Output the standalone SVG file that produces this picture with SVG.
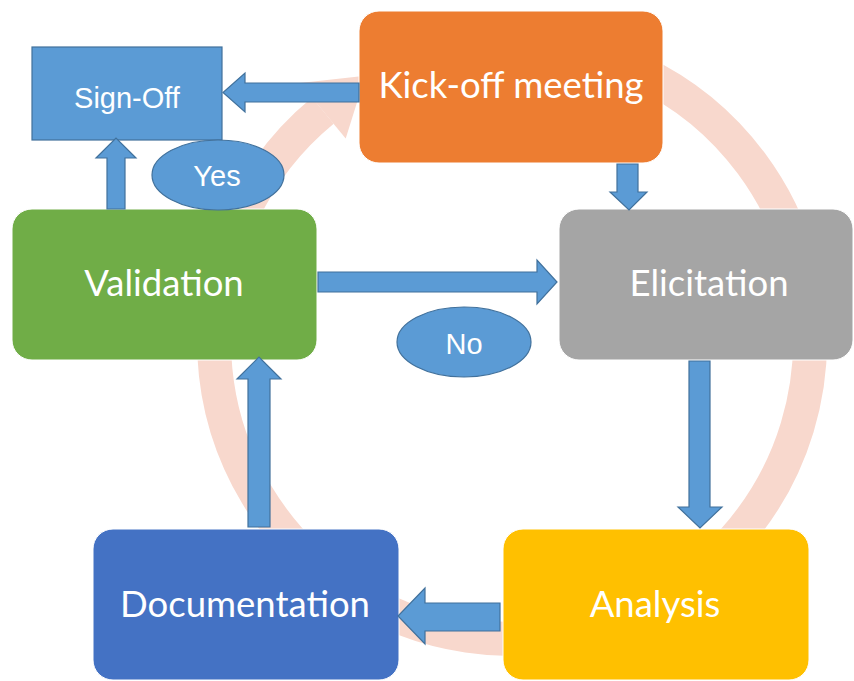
<svg xmlns="http://www.w3.org/2000/svg" width="854" height="681" viewBox="0 0 854 681">
<defs>
<style>
.node{stroke:#ffffff;stroke-width:1}
.ntext{font-family:"Lato","Open Sans","DejaVu Sans",sans-serif;font-size:36.5px;fill:#ffffff;text-anchor:middle}
.ltext{font-family:"Liberation Sans",Arial,sans-serif;font-size:29px;fill:#ffffff;text-anchor:middle}
.blue{fill:#5B9BD5;stroke:#41719C;stroke-width:1.2}
.ring{fill:none;stroke:#F8D8CD;stroke-width:34}
</style>
</defs>
<rect width="854" height="681" fill="#ffffff"/>
<g id="cycle-ring">
<path class="ring" d="M 512 43 A 298 298 0 1 1 322.9 110.7"/>
<polygon fill="#F8D8CD" points="300,82.9 345.7,138.6 365.4,75.8"/>
</g>
<g id="kickoff">
<rect class="node" x="359" y="11" width="304" height="152" rx="20" fill="#ED7D31"/>
<text class="ntext" x="511" y="98">Kick-off meeting</text>
</g>
<g id="elicitation">
<rect class="node" x="559" y="209" width="294" height="151" rx="20" fill="#A5A5A5"/>
<text class="ntext" x="709" y="296">Elicitation</text>
</g>
<g id="analysis">
<rect class="node" x="503" y="529" width="306" height="151" rx="20" fill="#FFC000"/>
<text class="ntext" x="655" y="617">Analysis</text>
</g>
<g id="documentation">
<rect class="node" x="93" y="529" width="306" height="151" rx="20" fill="#4472C4"/>
<text class="ntext" x="245" y="617">Documentation</text>
</g>
<g id="validation">
<rect class="node" x="12" y="209" width="305" height="151" rx="20" fill="#70AD47"/>
<text class="ntext" x="164" y="296">Validation</text>
</g>
<g id="signoff">
<rect x="32" y="47" width="190" height="93" fill="#5B9BD5" stroke="#41719C" stroke-width="1.2"/>
<text class="ltext" x="127" y="108">Sign-Off</text>
</g>
<g id="connectors">
<polygon class="blue" points="359,83 245,83 245,73 223,92.5 245,112 245,102 359,102"/>
<polygon class="blue" points="617,164 638,164 638,192 647,192 629,210 610,192 617,192"/>
<polygon class="blue" points="318,272 537,272 537,260 557,282 537,304 537,292 318,292"/>
<polygon class="blue" points="689,361 710,361 710,507 722,507 700,528 678,507 689,507"/>
<polygon class="blue" points="500,603 425,603 425,588 398,616 425,644 425,631 500,631"/>
<polygon class="blue" points="248,527 270,527 270,379 281,379 259,357 237,379 248,379"/>
<polygon class="blue" points="107,209 125,209 125,158 136,158 116,138 96,158 107,158"/>
</g>
<g id="label-yes">
<ellipse class="blue" cx="218" cy="175" rx="66" ry="35"/>
<text class="ltext" x="217" y="186">Yes</text>
</g>
<g id="label-no">
<ellipse class="blue" cx="464" cy="342" rx="67" ry="35"/>
<text class="ltext" x="464" y="354">No</text>
</g>
</svg>
